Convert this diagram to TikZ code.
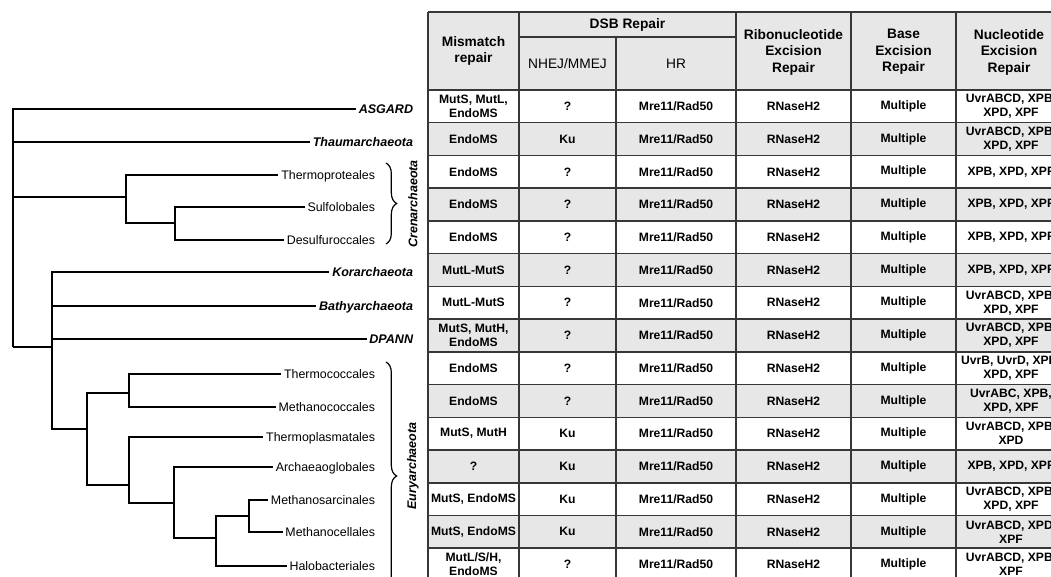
\documentclass[tikz,border=0pt]{standalone}
\usepackage{fontspec}
\setmainfont{Liberation Sans}
\usetikzlibrary{positioning,decorations.pathreplacing}
\definecolor{cellgray}{RGB}{231,231,231}
\definecolor{rulegray}{RGB}{55,55,55}
\tikzset{every picture/.style={line join=miter}}

\begin{document}
\begin{tikzpicture}[
    x=0.75pt, y=-0.75pt,
    branch/.style={line width=1.8pt},
    taxon/.style={anchor=east, inner sep=2pt, text height=6.7pt, text depth=0pt,
        font=\fontsize{9.3}{11}\selectfont},
    phylum/.style={taxon, font=\fontsize{9.4}{11}\selectfont\bfseries\itshape},
    clade/.style={rotate=90, font=\fontsize{9.4}{11}\selectfont\bfseries\itshape},
    clade brace/.style={decorate, decoration={brace, amplitude=8pt}, line width=0.9pt},
    head/.style={align=center, font=\fontsize{10.3}{12.4}\selectfont\bfseries},
    subhead/.style={align=center, font=\fontsize{10.3}{12.4}\selectfont},
    cell/.style={align=center, font=\fontsize{9.1}{10.5}\selectfont\bfseries},
    rule/.style={rulegray, line width=1.1pt}
]
    \useasboundingbox (0,0) rectangle (1051,576);
    \clip (0,0) rectangle (1051,576);

    % leaves
    \node[phylum] (asgard) at (416,109) {ASGARD};
    \node[phylum] (thaum) at (416,142) {Thaumarchaeota};
    \node[taxon] (tprot) at (378,175) {Thermoproteales};
    \node[taxon] (sulfo) at (378,207) {Sulfolobales};
    \node[taxon] (desulf) at (378,240) {Desulfuroccales};
    \node[phylum] (kor) at (416,272) {Korarchaeota};
    \node[phylum] (bathy) at (416,306) {Bathyarchaeota};
    \node[phylum] (dpann) at (416,339) {DPANN};
    \node[taxon] (tcocc) at (378,374) {Thermococcales};
    \node[taxon] (mcocc) at (378,407) {Methanococcales};
    \node[taxon] (tplas) at (378,437) {Thermoplasmatales};
    \node[taxon] (arch) at (378,467) {Archaeaoglobales};
    \node[taxon] (msarc) at (378,500) {Methanosarcinales};
    \node[taxon] (mcell) at (378,532) {Methanocellales};
    \node[taxon] (halo) at (378,566) {Halobacteriales};

    % inner nodes of the tree
    \coordinate (nRoot) at (13,347);
    \coordinate (nCren) at (126,197);
    \coordinate (nSulf) at (175,223);
    \coordinate (nB) at (52,347);
    \coordinate (nEury) at (87,429);
    \coordinate (nD) at (129,393);
    \coordinate (nE) at (129,485);
    \coordinate (nF) at (174,503);
    \coordinate (nG) at (216,538);
    \coordinate (nH) at (249,516);

    % branches
    \draw[branch] (nRoot) |- (asgard);
    \draw[branch] (nRoot) |- (thaum);
    \draw[branch] (nRoot) |- (nCren);
    \draw[branch] (nRoot) -- (nB);
    \draw[branch] (nCren) |- (tprot);
    \draw[branch] (nCren) |- (nSulf);
    \draw[branch] (nSulf) |- (sulfo);
    \draw[branch] (nSulf) |- (desulf);
    \draw[branch] (nB) |- (kor);
    \draw[branch] (nB) |- (bathy);
    \draw[branch] (nB) |- (dpann);
    \draw[branch] (nB) |- (nEury);
    \draw[branch] (nEury) |- (nD);
    \draw[branch] (nEury) |- (nE);
    \draw[branch] (nD) |- (tcocc);
    \draw[branch] (nD) |- (mcocc);
    \draw[branch] (nE) |- (tplas);
    \draw[branch] (nE) |- (nF);
    \draw[branch] (nF) |- (arch);
    \draw[branch] (nF) |- (nG);
    \draw[branch] (nG) |- (nH);
    \draw[branch] (nG) |- (halo);
    \draw[branch] (nH) |- (msarc);
    \draw[branch] (nH) |- (mcell);

    % clades
    \draw[clade brace] (386,163) -- (386,244);
    \node[clade] (cren) at (413,204) {Crenarchaeota};
    \draw[clade brace] (386,362) -- (386,590);
    \node[clade] (eury) at (413,466) {Euryarchaeota};

    % table shading
    \fill[cellgray] (428,12) rectangle (1066,90);
    \foreach \i in {1,3,...,13}
        \fill[cellgray] (428,{90+32.73*\i}) rectangle (1066,{90+32.73*(\i+1)});

    % header
    \node[head] (mmr) at (473.5,51) {Mismatch\\repair};
    \node[head] (dsb) at (627.5,24.5) {DSB Repair};
    \node[subhead] (nhej) at (567.5,63.5) {NHEJ/MMEJ};
    \node[subhead] (hr) at (676,63.5) {HR};
    \node[head] (rer) at (793.5,52) {Ribonucleotide\\Excision\\Repair};
    \node[head] (ber) at (903.5,52) {Base\\Excision\\Repair};
    \node[head] (ner) at (1009,52) {Nucleotide\\Excision\\Repair};

    % rows
    \foreach \mm/\nh/\ner [count=\i from 0] in {
        {MutS, MutL,\\EndoMS}/?/{UvrABCD, XPB,\\XPD, XPF},
        EndoMS/Ku/{UvrABCD, XPB,\\XPD, XPF},
        EndoMS/?/{XPB, XPD, XPF},
        EndoMS/?/{XPB, XPD, XPF},
        EndoMS/?/{XPB, XPD, XPF},
        MutL-MutS/?/{XPB, XPD, XPF},
        MutL-MutS/?/{UvrABCD, XPB,\\XPD, XPF},
        {MutS, MutH,\\EndoMS}/?/{UvrABCD, XPB,\\XPD, XPF},
        EndoMS/?/{UvrB, UvrD, XPB,\\XPD, XPF},
        EndoMS/?/{UvrABC, XPB,\\XPD, XPF},
        {MutS, MutH}/Ku/{UvrABCD, XPB,\\XPD},
        ?/Ku/{XPB, XPD, XPF},
        {MutS, EndoMS}/Ku/{UvrABCD, XPB,\\XPD, XPF},
        {MutS, EndoMS}/Ku/{UvrABCD, XPD,\\XPF},
        {MutL/S/H,\\EndoMS}/?/{UvrABCD, XPB,\\XPF}}
    {
        \pgfmathsetmacro\yc{90+32.73*(\i+0.5)}
        \node[cell] (mm-\i) at (473.5,\yc) {\mm};
        \node[cell] (nh-\i) at (567.5,\yc) {\nh};
        \node[cell] (hr-\i) at (676,\yc) {Mre11/Rad50};
        \node[cell] (rer-\i) at (793.5,\yc) {RNaseH2};
        \node[cell] (ber-\i) at (903.5,\yc) {Multiple};
        \node[cell] (ner-\i) at (1011,\yc) {\ner};
    }

    % grid
    \draw[rule] (428,12) -- (1066,12);
    \draw[rule] (519,37) -- (736,37);
    \foreach \i in {0,...,15}
        \draw[rule] (428,{90+32.73*\i}) -- (1066,{90+32.73*\i});
    \foreach \x in {428,519,736,851,956,1066}
        \draw[rule] (\x,12) -- (\x,581);
    \draw[rule] (616,37) -- (616,581);
\end{tikzpicture}
\end{document}
